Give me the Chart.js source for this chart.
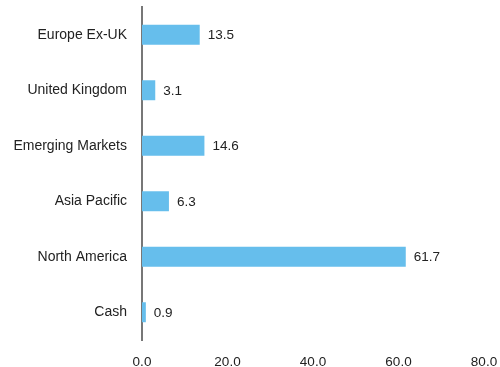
<!DOCTYPE html>
<html>
<head>
<meta charset="utf-8">
<script src="https://cdn.jsdelivr.net/npm/chart.js@4.4.0/dist/chart.umd.min.js"></script>
<style>
  html, body { margin: 0; padding: 0; background: #fff; }
  #wrap { width: 500px; height: 367px; }
</style>
</head>
<body>
<div id="wrap"><canvas id="c" width="500" height="367"></canvas></div>
<script>
// Regional allocation (%)
const regions = ["Europe Ex-UK", "United Kingdom", "Emerging Markets", "Asia Pacific", "North America", "Cash"];
const weights = [13.5, 3.1, 14.6, 6.3, 61.7, 0.9];
const xTicks = [0, 20, 40, 60, 80];

const FONT = "'Liberation Sans', Arial, Helvetica, sans-serif";

// Writes each bar's value just past its end
const valueLabels = {
  id: 'valueLabels',
  afterDatasetsDraw(chart) {
    const ctx = chart.ctx;
    const meta = chart.getDatasetMeta(0);
    ctx.save();
    ctx.font = "13.5px " + FONT;
    ctx.fillStyle = "#222";
    ctx.textAlign = "left";
    ctx.textBaseline = "middle";
    meta.data.forEach((bar, i) => {
      ctx.fillText(weights[i].toFixed(1), bar.x + 8, bar.y + 1);
    });
    ctx.restore();
  }
};

new Chart(document.getElementById('c'), {
  type: 'bar',
  data: {
    labels: regions,
    datasets: [{
      data: weights,
      backgroundColor: '#66BEEC',
      borderWidth: 0,
      categoryPercentage: 1.0,
      barPercentage: 0.36
    }]
  },
  options: {
    indexAxis: 'y',
    responsive: false,
    animation: false,
    layout: { autoPadding: false, padding: { top: 7, right: 16, left: 0, bottom: 0 } },
    plugins: { legend: { display: false }, tooltip: { enabled: false } },
    scales: {
      x: {
        min: 0, max: 80,
        afterBuildTicks(scale) { scale.ticks = xTicks.map(v => ({ value: v })); },
        afterFit(scale) {
          scale.height = 27;
          scale.paddingLeft = 0; scale.paddingRight = 0;
        },
        grid: { display: false },
        border: { display: false },
        ticks: {
          padding: 6,
          color: '#222',
          font: { family: FONT, size: 13.5 },
          maxRotation: 0,
          callback: v => Number(v).toFixed(1)
        }
      },
      y: {
        afterFit(scale) {
          scale.width = 142;
          scale.paddingTop = 0; scale.paddingBottom = 0;
        },
        grid: { display: false },
        border: { display: true, color: '#777', width: 2 },
        ticks: {
          padding: 7,
          color: '#222',
          font: { family: FONT, size: 14 }
        }
      }
    }
  },
  plugins: [valueLabels]
});
</script>
</body>
</html>
